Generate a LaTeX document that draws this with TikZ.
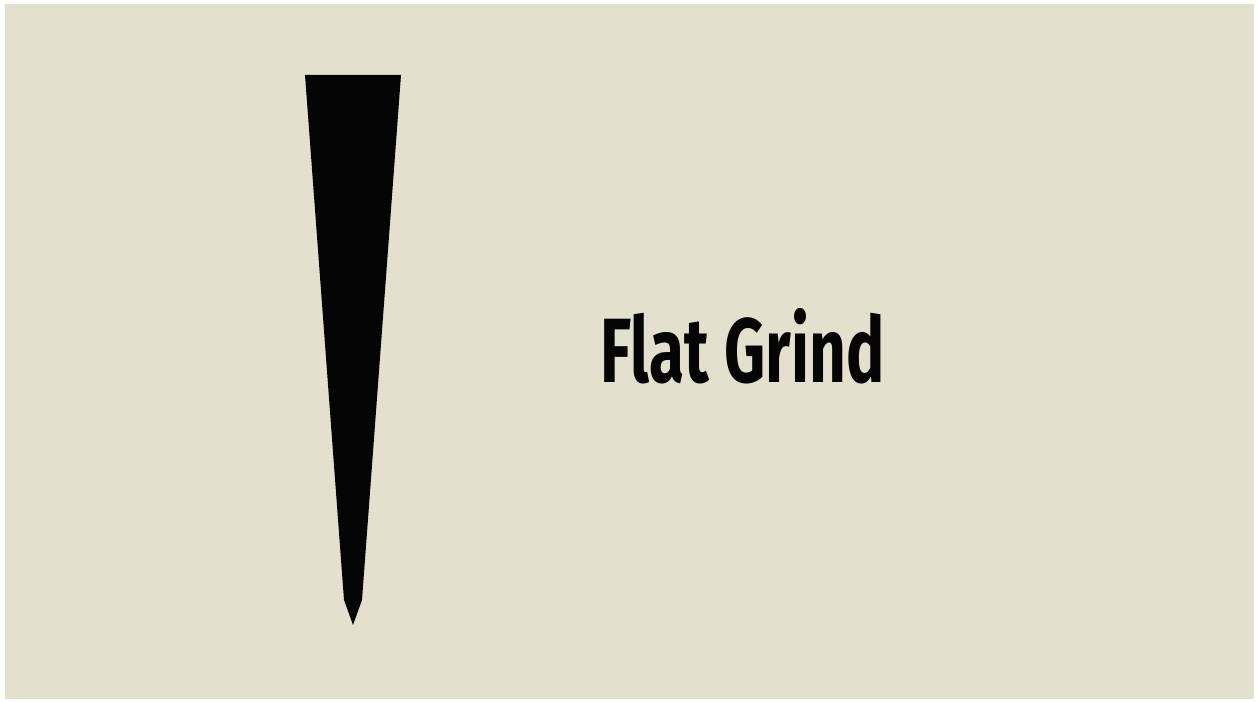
\documentclass[tikz,border=0pt]{standalone}
\usepackage{fontspec}
\newfontfamily\grindfont{Fira Sans}
\definecolor{parchment}{HTML}{E3E1CE}
\definecolor{bladeblack}{HTML}{050505}
\usetikzlibrary{positioning}
\tikzset{
  blade/.style={fill=bladeblack,draw=none},
  caption/.style={font=\grindfont\bfseries\fontsize{52}{58}\selectfont,text=bladeblack,xscale=0.70,inner sep=0pt}
}

\begin{document}
\begin{tikzpicture}[x=0.02cm,y=-0.02cm]
  % frame
  \fill[white] (0,0) rectangle (1259,702);
  \useasboundingbox (0,0) rectangle (1259,702);
  \fill[parchment] (5,4) rectangle (1254,699);
  % flat-ground blade profile
  \fill[blade] (305,75) -- (401,75) -- (362,600) -- (353,625) -- (344,600) -- cycle;
  % label
  \node[caption,anchor=base west] (grind) at (600,383) {Flat Grind};
\end{tikzpicture}
\end{document}
